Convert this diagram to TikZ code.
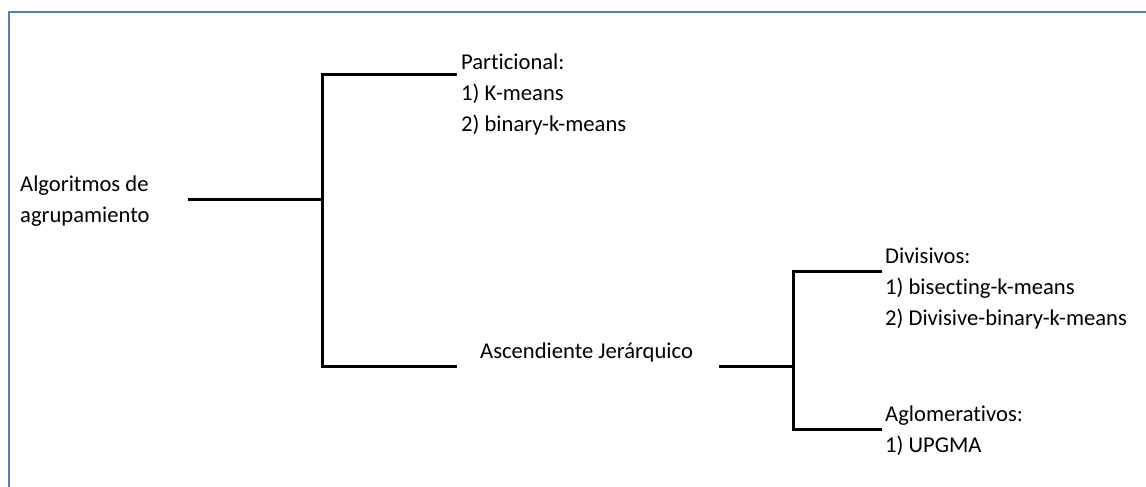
\documentclass[tikz,border=0pt]{standalone}
\usepackage{fontspec}
\setmainfont[RawFeature={-liga}]{Carlito}
\definecolor{frameblue}{HTML}{4F81BD}
\tikzset{
  x=1pt, y=-1pt,
  lbl/.style={inner sep=0pt, anchor=west, align=left, text=black,
              font=\fontsize{22.6}{31}\selectfont},
  conn/.style={line width=3pt, line join=miter, line cap=rect, black},
  frame/.style={line width=2pt, frameblue}
}
\begin{document}
\begin{tikzpicture}
  \useasboundingbox[fill=white] (0,0) rectangle (1146,487);
  % outer frame (top and left edges)
  \draw[frame] (9,487) -- (9,12) -- (1146,12);

  % labels
  \node[lbl] (root) at (20,201) {Algoritmos de\\agrupamiento};
  \node[lbl] (part) at (461,94) {Particional:\\1) K-means\\2) binary-k-means};
  \node[lbl] (asc)  at (480,352) {Ascendiente Jerárquico};
  \node[lbl] (div)  at (885,289) {Divisivos:\\1) bisecting-k-means\\2) Divisive-binary-k-means};
  \node[lbl] (aglo) at (885,431) {Aglomerativos:\\1) UPGMA};

  % branch points
  \coordinate (r0) at (189,199);
  \coordinate (j1m) at (322,199);
  \coordinate (j1t) at (322,75);
  \coordinate (j1b) at (322,366);
  \coordinate (p0) at (455,75);
  \coordinate (a0) at (455,366);
  \coordinate (a1) at (720,366);
  \coordinate (j2m) at (793,366);
  \coordinate (j2t) at (793,271);
  \coordinate (j2b) at (793,429);
  \coordinate (d0) at (880,271);
  \coordinate (g0) at (880,429);

  % first split
  \draw[conn] (r0) -- (j1m);
  \draw[conn] (p0) -- (j1t) -- (j1b) -- (a0);
  % second split
  \draw[conn] (a1) -- (j2m);
  \draw[conn] (d0) -- (j2t) -- (j2b) -- (g0);
\end{tikzpicture}
\end{document}
